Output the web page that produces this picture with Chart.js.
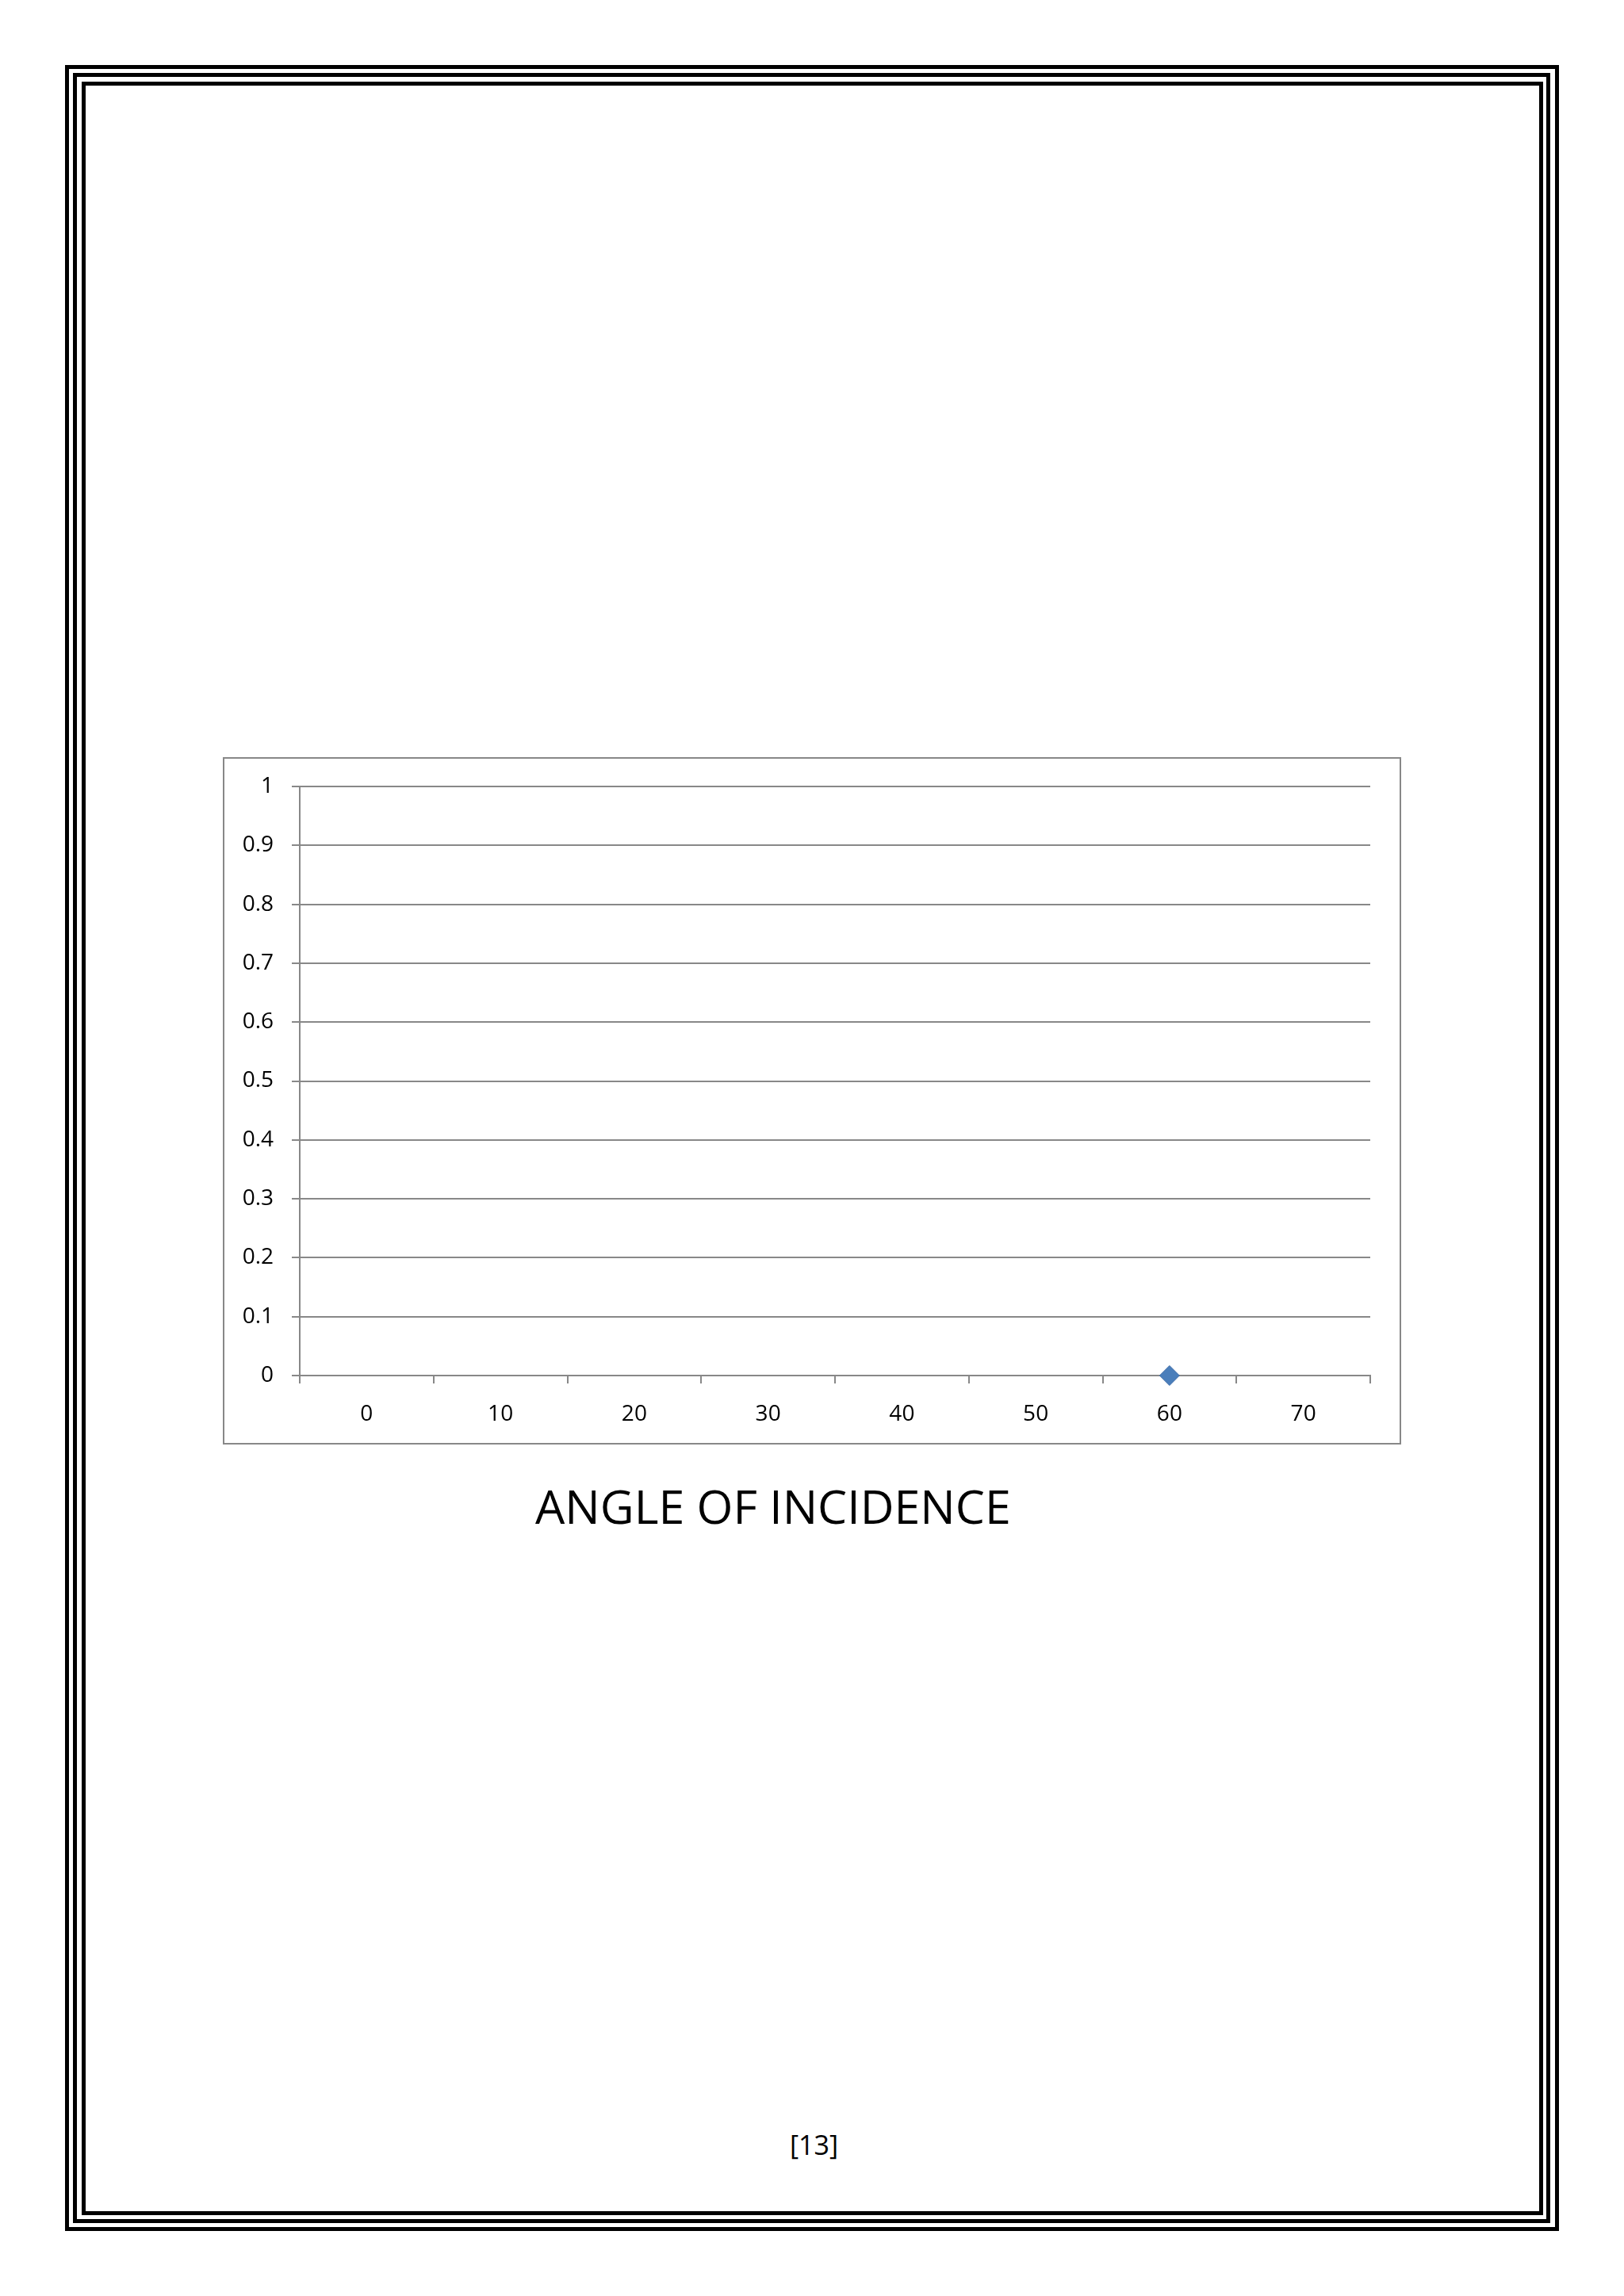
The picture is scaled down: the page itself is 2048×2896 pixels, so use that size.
<!DOCTYPE html>
<html>
<head>
<meta charset="utf-8">
<script src="https://cdn.jsdelivr.net/npm/chart.js"></script>
<style>
  html, body { margin: 0; padding: 0; background: #fff; }
  body { width: 2048px; height: 2896px; position: relative; overflow: hidden; font-family: "Open Sans", sans-serif; }
  .frame { position: absolute; box-sizing: border-box; border: 5px solid #000; }
  #chartBox { position: absolute; left: 281px; top: 955px; width: 1486px; height: 867px; box-sizing: border-box; border: 2px solid #888; background: #fff; }
  #title { position: absolute; left: 675px; top: 1870px; font-size: 59px; line-height: 1; color: #000; white-space: nowrap; }
  #pageNo { position: absolute; left: 996px; top: 2688px; font-size: 34px; line-height: 1; color: #000; }
</style>
</head>
<body>
<div class="frame" style="left:82px;top:82px;width:1884px;height:2732px;"></div>
<div class="frame" style="left:92px;top:92px;width:1863px;height:2712px;"></div>
<div class="frame" style="left:103px;top:103px;width:1843px;height:2691px;"></div>

<div id="chartBox"><canvas id="myChart" width="1482" height="863"></canvas></div>
<div id="title">ANGLE OF INCIDENCE</div>
<div id="pageNo">[13]</div>

<script>
// angle of incidence categories, only 60 has a value
var angles = ['0', '10', '20', '30', '40', '50', '60', '70'];
var values = [null, null, null, null, null, null, 0, null];
var yMin = 0, yMax = 1, yStep = 0.1;

var gridGray = '#888888';
var ctx = document.getElementById('myChart').getContext('2d');
var myChart = new Chart(ctx, {
  type: 'line',
  data: {
    labels: angles,
    datasets: [{
      label: 'Series1',
      data: values,
      showLine: false,
      clip: false,
      pointStyle: 'rectRot',
      pointRadius: 12.5,
      pointHoverRadius: 12.5,
      backgroundColor: '#4a7ebb',
      borderColor: '#3d6ca8',
      borderWidth: 1
    }]
  },
  options: {
    responsive: false,
    devicePixelRatio: 1,
    animation: false,
    layout: { padding: { top: 35, right: 37, left: 0, bottom: 0 } },
    plugins: {
      legend: { display: false },
      tooltip: { enabled: false }
    },
    scales: {
      x: {
        type: 'category',
        offset: true,
        afterFit: function(scale) { scale.height = 85; scale.paddingLeft = 0; scale.paddingRight = 0; },
        grid: { offset: true, drawOnChartArea: false, drawTicks: true, tickLength: 10, color: gridGray, lineWidth: 2 },
        border: { display: true, color: gridGray, width: 2 },
        ticks: { padding: 22, maxRotation: 0, color: '#000', font: { family: 'Open Sans', size: 28 } }
      },
      y: {
        min: yMin,
        max: yMax,
        afterFit: function(scale) { scale.width = 95; scale.paddingTop = 0; scale.paddingBottom = 0; },
        grid: { drawTicks: true, tickLength: 10, color: gridGray, lineWidth: 2 },
        border: { display: true, color: gridGray, width: 2 },
        ticks: {
          stepSize: yStep, padding: 23, color: '#000',
          font: { family: 'Open Sans', size: 28 },
          callback: function(v) { return String(Math.round(v * 10) / 10); }
        }
      }
    }
  }
});
</script>
</body>
</html>
